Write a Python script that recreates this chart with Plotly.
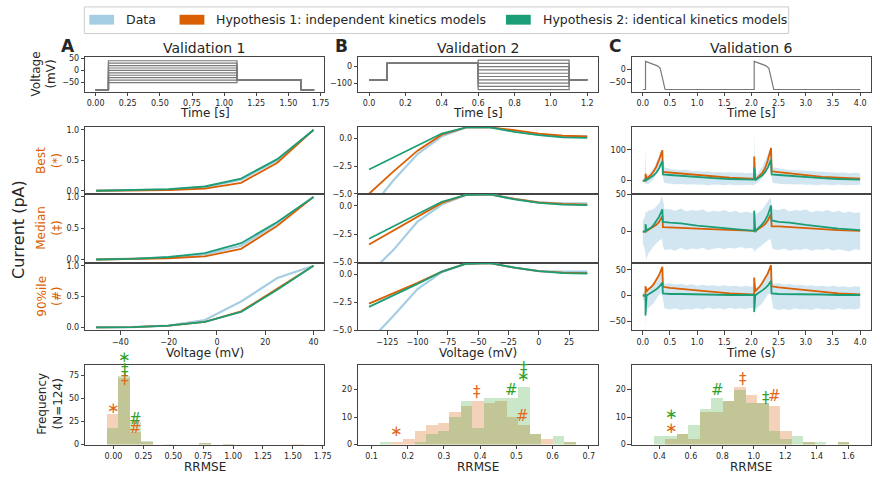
import plotly.graph_objects as go

W, H = 880, 482

# ---------------- colours ----------------
C_DATA = '#a6cee3'
C_H1 = '#d95f02'
C_H2 = '#1b9e77'
C_H1_MARK = '#e2681a'
C_H2_MARK = '#33a02c'
C_V = '#7a7a7a'

# ---------------- voltage protocols ----------------
V1_LEVELS = [-50, -40, -30, -20, -10, 0, 10, 20, 30, 40]
V1_T = [0, 0.1, 0.1, 1.1, 1.1, 1.6, 1.6, 1.7]
V1_HOLD = -80
V1_TAIL = -40
V2_LEVELS = [-140, -120, -100, -80, -60, -40, -20, 0, 20, 40]
V2_T = [0, 0.1, 0.1, 0.6, 0.6, 1.1, 1.1, 1.2]
V2_HOLD = -80
V2_PRE = 20
V6_T = [0, 0.05, 0.05, 0.27, 0.32, 0.41, 2.05, 2.05, 2.27, 2.32, 2.41, 4.0]
V6_V = [-80, -80, 33, 15, 5, -80, -80, 33, 15, 5, -80, -80]

# ---------------- IV curves (rows: best, median, 90%ile) ----------------
IV_A_V = [-50, -35, -20, -5, 10, 25, 40]
IV_A_DATA = [[0, 0.005, 0.02, 0.06, 0.18, 0.50, 1.0],
             [0, 0.01, 0.03, 0.08, 0.22, 0.58, 1.0],
             [0, 0.005, 0.03, 0.12, 0.42, 0.80, 1.0]]
IV_A_H1 = [[0, 0.003, 0.01, 0.035, 0.13, 0.46, 1.0],
           [0, 0.005, 0.02, 0.05, 0.17, 0.54, 1.0],
           [0, 0.005, 0.03, 0.09, 0.26, 0.63, 1.0]]
IV_A_H2 = [[0, 0.01, 0.025, 0.07, 0.20, 0.52, 1.0],
           [0, 0.01, 0.04, 0.10, 0.26, 0.60, 1.0],
           [0, 0.005, 0.03, 0.09, 0.25, 0.61, 1.0]]

IV_B_V = [-140, -120, -100, -80, -60, -40, -20, 0, 20, 40]
IV_B_DATA = [[-6.5, -3.8, -1.4, 0.2, 1.0, 1.0, 0.65, 0.35, 0.2, 0.2],
             [-6.0, -3.9, -1.4, 0.1, 0.95, 1.0, 0.6, 0.3, 0.2, 0.2],
             [-6.0, -3.7, -1.3, 0.2, 0.95, 1.0, 0.6, 0.3, 0.25, 0.25]]
IV_B_H1 = [[-5.0, -3.0, -1.1, 0.35, 1.0, 1.0, 0.75, 0.45, 0.25, 0.2],
           [-3.4, -2.2, -1.0, 0.25, 0.95, 1.0, 0.6, 0.3, 0.15, 0.1],
           [-2.6, -1.7, -0.75, 0.25, 0.95, 1.0, 0.6, 0.3, 0.15, 0.12]]
IV_B_H2 = [[-2.8, -1.7, -0.6, 0.45, 1.0, 1.0, 0.6, 0.3, 0.1, 0.05],
           [-2.9, -1.8, -0.7, 0.35, 0.95, 1.0, 0.55, 0.25, 0.1, 0.05],
           [-2.9, -1.9, -0.85, 0.25, 0.95, 1.0, 0.6, 0.3, 0.12, 0.08]]

# ---------------- Validation 6 time series ----------------
V6_T_ENV = [0, 0.04, 0.05, 0.06, 0.1, 0.2, 0.3, 0.35, 0.38, 0.4, 0.5, 0.6, 0.7, 0.8, 0.9,
            1.0, 1.1, 1.2, 1.3, 1.4, 1.5, 1.6, 1.7, 1.8, 1.9, 2.0, 2.04, 2.05, 2.06, 2.1,
            2.2, 2.3, 2.35, 2.38, 2.4, 2.5, 2.6, 2.7, 2.8, 2.9, 3.0, 3.1, 3.2, 3.3, 3.4,
            3.5, 3.6, 3.7, 3.8, 3.9, 4.0]
V6_DATA_UP = [
    [5, 8, 110, 20, 18, 40, 80, 100, 60, 42, 38, 36, 33, 35, 30, 31, 29, 30, 27, 28, 26, 27, 25, 26, 24, 25,
     24, 170, 25, 20, 45, 85, 105, 60, 42, 40, 36, 34, 33, 32, 30, 31, 28, 29, 27, 27, 25, 26, 24, 25, 24],
    [15, 20, 28, 25, 28, 30, 38, 48, 40, 30, 30, 28, 31, 27, 29, 28, 30, 26, 28, 27, 29, 26, 28, 25, 27, 25,
     26, 30, 25, 24, 30, 40, 46, 35, 30, 29, 31, 27, 29, 28, 30, 26, 28, 27, 29, 26, 28, 25, 27, 25, 26],
    [5, 8, 15, 12, 15, 22, 42, 50, 30, 22, 24, 21, 23, 20, 22, 19, 21, 19, 20, 18, 20, 18, 19, 17, 19, 17,
     18, 22, 15, 16, 25, 45, 52, 30, 23, 24, 21, 23, 20, 21, 19, 20, 18, 19, 17, 19, 17, 18, 16, 18, 17]]
V6_DATA_LO = [
    [-5, -8, -15, -10, -12, 5, 35, 50, 0, -8, -10, -12, -11, -13, -12, -14, -13, -15, -13, -14, -15, -13, -15,
     -14, -15, -14, -15, -18, -12, -10, 8, 38, 52, 0, -8, -10, -12, -11, -13, -12, -14, -13, -15, -13, -14,
     -15, -13, -15, -14, -15, -14],
    [-15, -25, -30, -38, -30, -20, -12, -10, -22, -25, -24, -26, -22, -25, -23, -24, -22, -25, -23, -22, -24,
     -22, -23, -21, -23, -22, -24, -28, -26, -24, -18, -12, -10, -22, -24, -25, -23, -26, -24, -25, -23, -26,
     -24, -25, -23, -26, -24, -25, -27, -24, -25],
    [-8, -12, -62, -25, -25, -15, 2, 5, -15, -25, -27, -25, -28, -26, -27, -25, -27, -24, -26, -25, -27, -24,
     -26, -25, -26, -24, -25, -40, -28, -25, -15, 2, 5, -15, -25, -28, -26, -28, -25, -27, -26, -28, -25, -27,
     -26, -28, -25, -27, -26, -27, -25]]

V6_T_MODEL = [0, 0.05, 0.05, 0.07, 0.1, 0.15, 0.2, 0.25, 0.3, 0.36, 0.37, 0.5, 0.7, 1.0, 1.3, 1.6, 2.0,
              2.05, 2.05, 2.07, 2.1, 2.15, 2.2, 2.25, 2.3, 2.36, 2.37, 2.5, 2.7, 3.0, 3.3, 3.6, 4.0]
V6_H1 = [[0, 0, 22, 5, 10, 18, 30, 45, 68, 98, 28, 26, 22, 17, 13, 9, 6, 6, 78, 3, 8, 15, 25, 40, 65, 106,
          30, 27, 23, 17, 12, 9, 6],
         [0, 0, 2, 1, 2, 4, 6, 9, 13, 21, 6, 6, 5, 4, 3, 2, 1, 1, 4, 0, 2, 4, 7, 10, 15, 24, 7, 7, 6, 4, 3, 2, 1],
         [0, 0, 18, 8, 12, 16, 22, 30, 40, 56, 17, 15, 13, 10, 7, 4, 2, 2, 35, 8, 12, 17, 25, 33, 43, 59, 18,
          16, 14, 10, 7, 4, 2]]
V6_H2 = [[0, 0, 4, 2, 5, 10, 17, 26, 40, 63, 20, 18, 15, 11, 8, 5, 3, 3, 42, 1, 5, 10, 17, 27, 42, 68, 20,
          18, 15, 11, 8, 5, 3],
         [0, 0, 10, 1, 3, 5, 9, 14, 20, 30, 13, 12, 11, 8, 6, 4, 1, 1, 28, 0, 3, 6, 10, 15, 22, 35, 15, 13, 12,
          9, 6, 4, 2],
         [0, 0, -39, 0, 2, 5, 8, 12, 17, 25, 4, 3, 3, 2, 2, 1, 1, 1, -32, 0, 3, 6, 10, 14, 19, 28, 4, 3, 3, 2,
          2, 1, 1]]

# ---------------- RRMSE histograms ----------------
HA_START, HA_WIDTH = -0.055, 0.097
HA_H1 = [33, 72, 14, 3, 0, 0, 0, 0, 2, 0, 1, 0, 0, 0, 0, 0, 1]
HA_H2 = [18, 74, 25, 4, 0, 1, 0, 0, 2, 0, 1, 0, 0, 0, 0, 0, 0]
HB_START, HB_WIDTH = 0.125, 0.0317
HB_H1 = [0, 1, 2, 5, 7, 8, 12, 14, 16, 15, 16, 10, 7, 4, 2, 0, 1]
HB_H2 = [1, 0, 0, 1, 4, 5, 10, 16, 6, 17, 17, 17, 21, 4, 0, 3, 1]
HC_START, HC_WIDTH = 0.364, 0.0731
HC_H1 = [0, 2, 4, 2, 12, 12, 16, 21, 18, 15, 14, 5, 0, 1, 0, 0, 1]
HC_H2 = [3, 3, 4, 7, 13, 17, 16, 20, 15, 15, 5, 2, 3, 1, 1, 0, 1]

# markers: (symbol, x, y)
MK_A_H1 = [('∗', 0.0, 39), ('‡', 0.095, 71), ('#', 0.18, 18)]
MK_A_H2 = [('∗', 0.09, 95), ('‡', 0.095, 81), ('#', 0.185, 28)]
MK_B_H1 = [('∗', 0.17, 5), ('‡', 0.39, 19), ('#', 0.517, 10.5)]
MK_B_H2 = [('∗', 0.521, 25), ('‡', 0.521, 28), ('#', 0.486, 20)]
MK_C_H1 = [('∗', 0.474, 6), ('‡', 0.93, 24), ('#', 1.13, 17.5)]
MK_C_H2 = [('∗', 0.474, 11), ('‡', 1.08, 17), ('#', 0.77, 20)]

# ---------------- layout geometry (pixels) ----------------
COLS = [(86, 327), (361, 603), (637, 878)]
ROW_V = (55, 90)
ROWS_IV = [(126, 194), (194, 264), (264, 333)]
ROW_H = (368, 449)
TICK_FS = 8

fig = go.Figure()
layout = dict(width=W, height=H, margin=dict(l=0, r=0, t=0, b=0),
              paper_bgcolor='white', plot_bgcolor='white', showlegend=False,
              font=dict(family='DejaVu Sans', color='#262626'))

axis_common = dict(showline=True, linecolor='#444444', linewidth=1, mirror=True,
                   ticks='outside', ticklen=3.5, tickwidth=0.8, tickcolor='#444444',
                   showgrid=False, zeroline=False, fixedrange=True,
                   tickfont=dict(size=TICK_FS, color='#262626'))


def fmt(v, d):
    return f"{v:.{d}f}".replace('-', '\u2212')


def set_axes(n, col, rowpx, xr, xt, xd, yr, yt, yd, showx=True):
    k = '' if n == 1 else str(n)
    x0, x1 = COLS[col]
    y0, y1 = rowpx
    xa = dict(axis_common, domain=[x0 / W, x1 / W], anchor='y' + k, range=xr, tickmode='array')
    if showx:
        xa.update(tickvals=xt, ticktext=[fmt(v, xd) for v in xt])
    else:
        xa.update(tickvals=[], ticks='')
    layout['xaxis' + k] = xa
    layout['yaxis' + k] = dict(axis_common, domain=[1 - y1 / H, 1 - y0 / H], anchor='x' + k,
                               range=yr, tickmode='array', tickvals=yt,
                               ticktext=[fmt(v, yd) for v in yt])


def ax(n):
    return ('x', 'y') if n == 1 else ('x%d' % n, 'y%d' % n)


def line(n, x, y, color, width):
    xa, ya = ax(n)
    fig.add_trace(go.Scatter(x=x, y=y, mode='lines', line=dict(color=color, width=width),
                             xaxis=xa, yaxis=ya, hoverinfo='skip'))


# ---- voltage row ----
set_axes(1, 0, ROW_V, [-0.08, 1.78], [0, 0.25, 0.5, 0.75, 1.0, 1.25, 1.5, 1.75], 2,
         [-87, 55], [-50, 0, 50], 0)
set_axes(2, 1, ROW_V, [-0.06, 1.26], [0, 0.2, 0.4, 0.6, 0.8, 1.0, 1.2], 1,
         [-151, 58], [-100, 0], 0)
set_axes(3, 2, ROW_V, [-0.2, 4.2], [0, 0.5, 1, 1.5, 2, 2.5, 3, 3.5, 4], 1,
         [-88, 50], [-50, 0], 0)

vx, vy = [], []
for L in V1_LEVELS:
    vx += V1_T + [None]
    vy += [V1_HOLD, V1_HOLD, L, L, V1_TAIL, V1_TAIL, V1_HOLD, V1_HOLD, None]
line(1, vx, vy, C_V, 1.2)
vx, vy = [], []
for L in V2_LEVELS:
    vx += V2_T + [None]
    vy += [V2_HOLD, V2_HOLD, V2_PRE, V2_PRE, L, L, V2_HOLD, V2_HOLD, None]
line(2, vx, vy, C_V, 1.2)
line(3, V6_T, V6_V, C_V, 1.2)

# ---- IV rows ----
for r in range(3):
    last = (r == 2)
    nA, nB, nC = 4 + 3 * r, 5 + 3 * r, 6 + 3 * r
    set_axes(nA, 0, ROWS_IV[r], [-54.5, 44.5], [-40, -20, 0, 20, 40], 0,
             [-0.05, 1.05], [0, 0.5, 1.0], 1, showx=last)
    set_axes(nB, 1, ROWS_IV[r], [-149, 49], [-125, -100, -75, -50, -25, 0, 25], 0,
             [-5, 1.05], [-5, -2.5, 0], 1, showx=last)
    cyr = [[-43, 174], [-42, 51], [-68, 64]][r]
    cyt = [[0, 100], [0, 50], [-50, 0, 50]][r]
    set_axes(nC, 2, ROWS_IV[r], [-0.2, 4.2], [0, 0.5, 1, 1.5, 2, 2.5, 3, 3.5, 4], 1,
             cyr, cyt, 0, showx=last)

    line(nA, IV_A_V, IV_A_DATA[r], C_DATA, 2.2)
    line(nA, IV_A_V, IV_A_H1[r], C_H1, 1.8)
    line(nA, IV_A_V, IV_A_H2[r], C_H2, 1.8)
    line(nB, IV_B_V, IV_B_DATA[r], C_DATA, 2.2)
    line(nB, IV_B_V, IV_B_H1[r], C_H1, 1.8)
    line(nB, IV_B_V, IV_B_H2[r], C_H2, 1.8)

    xa, ya = ax(nC)
    fig.add_trace(go.Scatter(x=V6_T_ENV + V6_T_ENV[::-1], y=V6_DATA_UP[r] + V6_DATA_LO[r][::-1],
                             mode='lines', fill='toself', fillcolor='rgba(166,206,227,0.5)',
                             line=dict(width=0, color=C_DATA), xaxis=xa, yaxis=ya, hoverinfo='skip'))
    line(nC, V6_T_MODEL, V6_H1[r], C_H1, 1.8)
    line(nC, V6_T_MODEL, V6_H2[r], C_H2, 1.8)

# ---- histograms ----
HIST_YR = {13: [0, 86], 14: [0, 29], 15: [0, 29]}
set_axes(13, 0, ROW_H, [-0.236, 1.764], [0, 0.25, 0.5, 0.75, 1.0, 1.25, 1.5, 1.75], 2,
         HIST_YR[13], [0, 25, 50, 75], 0)
set_axes(14, 1, ROW_H, [0.063, 0.726], [0.1, 0.2, 0.3, 0.4, 0.5, 0.6, 0.7], 1,
         HIST_YR[14], [0, 10, 20], 0)
set_axes(15, 2, ROW_H, [0.225, 1.745], [0.4, 0.6, 0.8, 1.0, 1.2, 1.4, 1.6], 1,
         HIST_YR[15], [0, 10, 20], 0)

ann = []
for n, start, wdt, h1, h2, m1, m2 in [
        (13, HA_START, HA_WIDTH, HA_H1, HA_H2, MK_A_H1, MK_A_H2),
        (14, HB_START, HB_WIDTH, HB_H1, HB_H2, MK_B_H1, MK_B_H2),
        (15, HC_START, HC_WIDTH, HC_H1, HC_H2, MK_C_H1, MK_C_H2)]:
    xa, ya = ax(n)
    centers = [start + (i + 0.5) * wdt for i in range(len(h1))]
    fig.add_trace(go.Bar(x=centers, y=h1, width=wdt, marker=dict(color='rgba(217,95,2,0.28)', line=dict(width=0)),
                         xaxis=xa, yaxis=ya, hoverinfo='skip'))
    fig.add_trace(go.Bar(x=centers, y=h2, width=wdt, marker=dict(color='rgba(44,160,44,0.25)', line=dict(width=0)),
                         xaxis=xa, yaxis=ya, hoverinfo='skip'))
    # RRMSE markers of best / median / 90%ile cells; y given as axis-domain fraction so that
    # markers above the top of the axes (unclipped, as in the original) are still drawn
    y0r, y1r = HIST_YR[n]
    for mk, col in [(m1, C_H1_MARK), (m2, C_H2_MARK)]:
        for sym, mx, my in mk:
            ann.append(dict(x=mx, y=(my - y0r) / (y1r - y0r), xref=xa, yref=ya + ' domain', text=sym,
                            showarrow=False, xanchor='center', yanchor='middle',
                            font=dict(size=15, color=col, family='DejaVu Sans')))

layout['barmode'] = 'overlay'
layout['bargap'] = 0


# ---------------- text ----------------
def text(px, py, s, size=12, color='#262626', angle=0, xanchor='center', bold=False):
    ann.append(dict(x=px / W, y=1 - py / H, xref='paper', yref='paper', text=('<b>%s</b>' % s) if bold else s,
                    showarrow=False, xanchor=xanchor, yanchor='middle', textangle=angle,
                    font=dict(size=size, color=color, family='DejaVu Sans')))


for (x0, x1), letter, title, ttl_x, ttl_b in zip(COLS, ['A', 'B', 'C'],
                                              ['Validation 1', 'Validation 2', 'Validation 6'],
                                              ['Time [s]'] * 3, ['Voltage (mV)', 'Voltage (mV)', 'Time (s)']):
    cx = (x0 + x1) / 2
    text(cx, 46, title, 14)
    text(x0 - 17, 44, letter, 17, bold=True)
    text(cx, 112, ttl_x, 12)
    text(cx, 356, ttl_b, 12)
    text(cx, 472, 'RRMSE', 12)

text(44, 72, 'Voltage<br>(mV)', 12, angle=-90)
text(18, 230, 'Current (pA)', 16, angle=-90)
text(50, 160, 'Best<br>(*)', 12, color=C_H1, angle=-90)
text(50, 229, 'Median<br>(‡)', 12, color=C_H1, angle=-90)
text(50, 298, '90%ile<br>(#)', 12, color=C_H1, angle=-90)
text(51, 408, 'Frequency<br>(N=124)', 12, angle=-90)

# legend (manual, matplotlib-like patches)
shapes = [dict(type='rect', xref='paper', yref='paper', x0=85 / W, x1=795 / W, y0=1 - 31 / H, y1=1 - 4 / H,
               line=dict(color='#cccccc', width=1), fillcolor='white', layer='below')]
for (p0, p1), col, label in [((90, 115), C_DATA, 'Data'),
                             ((181, 206), C_H1, 'Hypothesis 1: independent kinetics models'),
                             ((510, 535), C_H2, 'Hypothesis 2: identical kinetics models')]:
    shapes.append(dict(type='rect', xref='paper', yref='paper', x0=p0 / W, x1=p1 / W,
                       y0=1 - 22 / H, y1=1 - 12 / H, line=dict(width=0), fillcolor=col))
    text(p1 + 10, 17, label, 12.5, xanchor='left')

layout['annotations'] = ann
layout['shapes'] = shapes
fig.update_layout(**layout)
fig.write_html('out.html')
